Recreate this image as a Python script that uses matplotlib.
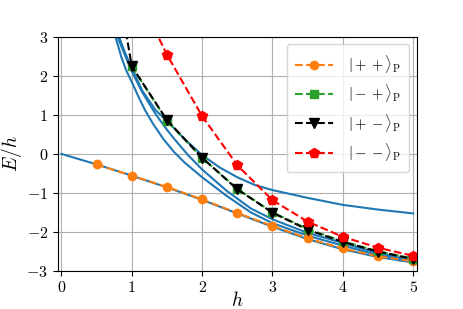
import matplotlib
matplotlib.use("Agg")
import matplotlib.pyplot as plt

plt.rcParams["mathtext.fontset"] = "cm"
plt.rcParams["font.family"] = "serif"
plt.rcParams["font.serif"] = ["cmr10", "DejaVu Serif"]
plt.rcParams["axes.formatter.use_mathtext"] = True

# points of the four |..>_P series
h_pp = [0.5, 1.0, 1.5, 2.0, 2.5, 3.0, 3.5, 4.0, 4.5, 5.0]
e_pp = [-0.27, -0.56, -0.85, -1.17, -1.52, -1.85, -2.17, -2.43, -2.63, -2.76]

h_mp = [1.0, 1.5, 2.0, 2.5, 3.0, 3.5, 4.0, 4.5, 5.0]
e_mp = [2.25, 0.85, -0.10, -0.90, -1.50, -1.93, -2.25, -2.50, -2.69]

h_pm = [0.5, 1.0, 1.5, 2.0, 2.5, 3.0, 3.5, 4.0, 4.5, 5.0]
e_pm = [7.6, 2.25, 0.87, -0.10, -0.91, -1.51, -1.95, -2.26, -2.51, -2.70]

h_mm = [1.0, 1.5, 2.0, 2.5, 3.0, 3.5, 4.0, 4.5, 5.0]
e_mm = [4.4, 2.55, 0.97, -0.29, -1.19, -1.74, -2.13, -2.41, -2.62]

# solid blue reference curves
h_a = [0.0, 0.5, 1.0, 1.5, 2.0, 2.5, 3.0, 3.5, 4.0, 4.5, 5.0]
e_a = [0.0, -0.27, -0.56, -0.86, -1.18, -1.53, -1.87, -2.19, -2.45, -2.65, -2.79]

h_b = [0.82, 0.9, 1.0, 1.15, 1.34, 1.5, 1.75, 2.0, 2.25, 2.5, 2.75, 3.0, 3.5, 4.0, 4.5, 5.0]
e_b = [3.0, 2.62, 2.2, 1.62, 1.12, 0.85, 0.38, -0.03, -0.35, -0.6, -0.8, -0.93, -1.13, -1.31, -1.43, -1.53]

h_c = [0.8, 0.9, 1.0, 1.15, 1.34, 1.5, 1.62, 1.8, 2.0, 2.35, 2.69, 3.0, 3.5, 3.83, 4.5, 5.0]
e_c = [3.0, 2.55, 2.12, 1.58, 1.02, 0.62, 0.35, -0.03, -0.40, -0.95, -1.40, -1.68, -2.03, -2.2, -2.55, -2.74]

h_d = [0.77, 0.85, 0.92, 1.0, 1.1, 1.19, 1.3, 1.45, 1.6, 1.75, 2.0, 2.35, 2.69, 3.0, 3.5, 3.83, 4.5, 5.0]
e_d = [3.0, 2.5, 2.15, 1.85, 1.45, 1.12, 0.78, 0.38, 0.05, -0.22, -0.6, -1.08, -1.5, -1.78, -2.1, -2.27, -2.6, -2.77]

fig, ax = plt.subplots(figsize=(4.63, 3.09), dpi=100)
fig.subplots_adjust(left=0.125, right=0.9, bottom=0.124, top=0.88)

for hh, ee in [(h_a, e_a), (h_b, e_b), (h_c, e_c), (h_d, e_d)]:
    ax.plot(hh, ee, "-", color="C0", lw=1.5)

ax.plot(h_pp, e_pp, "o--", color="C1", ms=6, label=r"$|++\rangle_{\mathrm{P}}$")
ax.plot(h_mp, e_mp, "s--", color="C2", ms=6, label=r"$|-+\rangle_{\mathrm{P}}$")
ax.plot(h_pm, e_pm, "v--", color="k", ms=7, label=r"$|+-\rangle_{\mathrm{P}}$")
ax.plot(h_mm, e_mm, "p--", color="r", ms=7, label=r"$|--\rangle_{\mathrm{P}}$")

ax.set_xlim(-0.05, 5.05)
ax.set_ylim(-3, 3)
ax.tick_params(labelsize=11.5)
ax.set_xlabel(r"$h$", fontsize=14, labelpad=-3)
ax.set_ylabel(r"$E/h$", fontsize=14, labelpad=2)
ax.grid(True)
ax.legend(loc="upper right", fontsize=10.5, handlelength=2.6,
          handletextpad=1.0, borderpad=0.6)

fig.savefig("out.png")
